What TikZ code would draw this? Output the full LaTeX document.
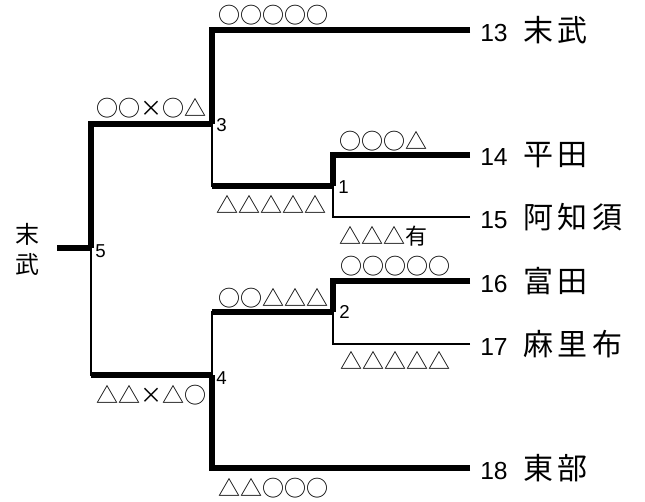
\documentclass[tikz,border=0pt]{standalone}
\usepackage{fontspec}
\setmainfont{Liberation Sans}
\newfontfamily\jp{Noto Sans CJK JP}
\newfontfamily\jpname{Noto Sans CJK JP}[LetterSpace=14]

\tikzset{
  win/.style={line width=4.1pt},
  lose/.style={line width=1pt},
  team/.style={anchor=west, inner xsep=7.5pt, inner ysep=0pt, font=\fontsize{18.5}{18.5}\selectfont},
  score/.style={inner sep=0pt, font=\jp\fontsize{16.5}{16.5}\selectfont},
  rnd/.style={anchor=west, inner sep=0pt, font=\fontsize{14}{14}\selectfont},
}

\begin{document}
\begin{tikzpicture}[x=0.75pt, y=-0.75pt]
  \useasboundingbox (0,0) rectangle (645,501);

  % matches
  \coordinate (r1) at (333,186);
  \coordinate (r2) at (333,312);
  \coordinate (r3) at (212,124);
  \coordinate (r4) at (212,375);
  \coordinate (r5) at (91,248);
  \coordinate (c5) at (57,248);

  % teams
  \node[team] (t13) at (470,30)  {13\hspace{0.65em}{\jpname\fontsize{22.5}{22.5}\selectfont 末武}};
  \node[team] (t14) at (470,155) {14\hspace{0.65em}{\jpname\fontsize{22.5}{22.5}\selectfont 平田}};
  \node[team] (t15) at (470,217) {15\hspace{0.65em}{\jpname\fontsize{22.5}{22.5}\selectfont 阿知須}};
  \node[team] (t16) at (470,281) {16\hspace{0.65em}{\jpname\fontsize{22.5}{22.5}\selectfont 富田}};
  \node[team] (t17) at (470,344) {17\hspace{0.65em}{\jpname\fontsize{22.5}{22.5}\selectfont 麻里布}};
  \node[team] (t18) at (470,468) {18\hspace{0.65em}{\jpname\fontsize{22.5}{22.5}\selectfont 東部}};
  \node[align=center, inner sep=0pt, font=\jp\fontsize{18}{22.5}\selectfont]
    (champ) at (27,249) {末\\武};

  % round 1
  \draw[win]  (t14.west) -| (r1);
  \draw[lose] (t15.west) -| (r1);
  % round 2
  \draw[win]  (t16.west) -| (r2);
  \draw[lose] (t17.west) -| (r2);
  % round 3
  \draw[win]  (t13.west) -| (r3);
  \draw[lose] (r3) |- (r1);
  \draw[win]  (r1) -- (r1 -| r3);
  % round 4
  \draw[win]  (t18.west) -| (r4);
  \draw[lose] (r4) |- (r2);
  \draw[win]  (r2) -- (r2 -| r4);
  % final
  \draw[win]  (r3) -| (r5);
  \draw[lose] (r5) |- (r4);
  \draw[win]  (r4) -- (r4 -| r5);
  \draw[win]  (r5) -- (c5);

  % match numbers
  \node[rnd] (n1) at (338,187) {1};
  \node[rnd] (n2) at (339,312) {2};
  \node[rnd] (n3) at (216,125) {3};
  \node[rnd] (n4) at (216,378) {4};
  \node[rnd] (n5) at (95,251)  {5};

  % scores
  \node[score] (s13) at (273,15)  {○○○○○};
  \node[score] (s14) at (383,141) {○○○△};
  \node[score] (s15) at (383,236) {△△△有};
  \node[score] (s16) at (395,266) {○○○○○};
  \node[score] (s17) at (395,360) {△△△△△};
  \node[score] (s18) at (273,488) {△△○○○};
  \node[score] (sa) at (271,204) {△△△△△};
  \node[score] (sb) at (273,298) {○○△△△};
  \node[score] (sc) at (151,108) {○○×○△};
  \node[score] (sd) at (151,395) {△△×△○};
\end{tikzpicture}
\end{document}
